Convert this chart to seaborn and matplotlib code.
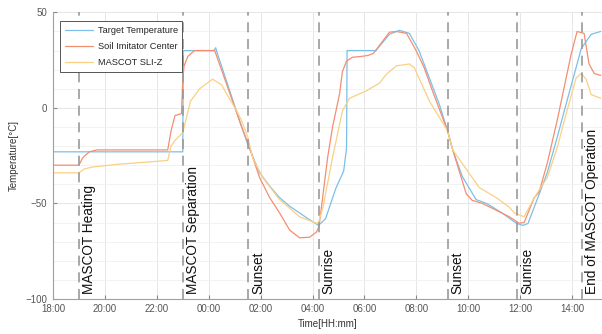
import matplotlib
matplotlib.use("Agg")
import matplotlib.pyplot as plt
import matplotlib.ticker as mticker
import seaborn as sns
import pandas as pd

# hours since 18:00
target_h = [0.0, 5.0, 5.02, 6.2, 6.27, 6.32, 7.27, 7.5, 7.96, 8.35, 8.73, 9.12, 9.5, 9.88, 10.23,
            10.5, 10.9, 11.2, 11.3, 11.31, 11.33, 12.45, 12.5, 12.96, 13.35, 13.73, 14.1, 14.5,
            14.88, 15.2, 15.4, 15.77, 16.3, 16.7, 17.3, 17.85, 18.1, 18.3, 18.65, 19.04, 19.42,
            19.8, 20.35, 20.73, 21.1]
target_t = [-23, -23, 30, 30, 31.5, 29, -10, -19, -34, -41, -47, -51.5, -55, -58.5, -61.5,
            -58, -42, -33, -22, -20, 30, 30, 31, 38.5, 40.6, 39, 30, 15.6,
            2, -12, -22, -36, -48, -50, -55, -60.4, -61.5, -60.5, -48, -34, -15.6,
            3.6, 31, 38.5, 40]

soil_h = [0.0, 1.0, 1.15, 1.4, 1.7, 4.42, 4.55, 4.7, 4.95, 5.0, 5.05, 5.2, 5.45, 6.23,
          7.27, 7.5, 7.96, 8.35, 8.73, 9.12, 9.5, 9.88, 10.15, 10.25, 10.58, 10.77, 11.04,
          11.15, 11.31, 11.54, 11.92, 12.15, 12.35, 12.65, 12.96, 13.23, 13.62, 14.0, 14.3,
          14.62, 15.2, 15.4, 15.92, 16.15, 16.54, 17.08, 17.58, 17.96, 18.15, 18.54, 18.73,
          19.04, 19.42, 19.96, 20.19, 20.46, 20.65, 20.85, 21.1]
soil_t = [-30, -30, -26, -23, -22, -22, -12, -4, -3, 15, 22, 27, 30, 30,
          -10, -18, -36.5, -47, -55, -64, -68, -67.7, -65, -62, -26, -10, 7.3,
          19, 24.5, 26.5, 27, 27.5, 28.6, 34, 39.6, 40, 39, 29.7, 21,
          8.9, -12, -22, -45, -48.4, -50, -53.6, -57, -60.4, -60, -47, -44,
          -29, -6.8, 28, 40, 39, 23, 18, 17]

sli_h = [0.0, 1.0, 1.2, 1.5, 2.5, 3.5, 4.42, 4.55, 4.7, 5.0, 5.3, 5.65, 6.04, 6.15, 6.5,
         6.69, 7.08, 7.27, 7.5, 7.69, 8.08, 8.73, 9.5, 10.15, 10.23, 10.4, 10.77, 11.15,
         11.42, 12.08, 12.58, 12.85, 13.23, 13.73, 13.92, 14.5, 15.2, 15.4, 16.42, 17.08,
         17.58, 17.77, 18.15, 18.54, 19.04, 19.42, 19.8, 20.15, 20.35, 20.54, 20.73, 21.1]
sli_t = [-34, -34, -32, -31, -29.5, -28.5, -27.5, -20, -17, -13, 3.6, 10, 14, 15, 12,
         7.3, -1.6, -6.8, -15, -26, -36.5, -48, -57, -60.4, -60, -52, -26, -1.6,
         5, 9, 13, 17.7, 22, 23, 21, 3.6, -12, -22, -41.7, -47,
         -52, -55, -57, -47, -36.5, -21, -1.6, 15.6, 18, 15, 7, 5]

series_names = ["Target Temperature", "Soil Imitator Center", "MASCOT SLI-Z"]
series_colors = ["#7cbfe8", "#f48e70", "#fad084"]

event_h = [1.0, 5.0, 7.5, 10.23, 15.2, 17.88, 20.38]
event_labels = ["MASCOT Heating", "MASCOT Separation", "Sunset", "Sunrise",
                "Sunset", "Sunrise", "End of MASCOT Operation"]

tick_h = [0, 2, 4, 6, 8, 10, 12, 14, 16, 18, 20]
tick_labels = ["18:00", "20:00", "22:00", "00:00", "02:00", "04:00", "06:00",
               "08:00", "10:00", "12:00", "14:00"]
ytick_vals = [-100, -50, 0, 50]

frames = []
for name, hh, tt in zip(series_names, [target_h, soil_h, sli_h], [target_t, soil_t, sli_t]):
    frames.append(pd.DataFrame({"hours": hh, "temp": tt, "series": name}))
df = pd.concat(frames, ignore_index=True)

sns.set_theme(style="white")
plt.rcParams["font.family"] = ["Liberation Sans", "DejaVu Sans"]

fig = plt.figure(figsize=(6.02, 3.34), dpi=100)
ax = fig.add_axes([0.088, 0.105, 0.912, 0.858])

sns.lineplot(data=df, x="hours", y="temp", hue="series", hue_order=series_names,
             palette=series_colors, estimator=None, sort=False, linewidth=0.9, ax=ax)

for xh, lab in zip(event_h, event_labels):
    ax.axvline(xh, color="#999999", linewidth=1.2, dashes=(6, 4), zorder=3)
    ax.text(xh + 0.13, -97.5, lab, rotation=90, ha="left", va="bottom",
            fontsize=9.8, color="#111111", zorder=4)

ax.set_xlim(0, 21.15)
ax.set_ylim(-100, 50)
ax.set_xticks(tick_h)
ax.set_xticklabels(tick_labels)
ax.set_yticks(ytick_vals)
ax.yaxis.set_minor_locator(mticker.MultipleLocator(10))
ax.grid(which="major", color="#e6e6e6", linewidth=0.7)
ax.grid(which="minor", axis="y", color="#f0f0f0", linewidth=0.6)
ax.tick_params(axis="both", which="major", direction="in", length=3, width=0.8,
               colors="#888888", labelsize=7, labelcolor="#555555", pad=4,
               bottom=True, left=True)
ax.tick_params(axis="y", which="minor", left=False)
for side in ["top", "right"]:
    ax.spines[side].set_visible(False)
for side in ["left", "bottom"]:
    ax.spines[side].set_color("#a0a0a0")
    ax.spines[side].set_linewidth(0.8)

ax.set_xlabel("Time[HH:mm]", fontsize=7, color="#333333", labelpad=3)
ax.set_ylabel("Temperature[°C]", fontsize=7, color="#333333", labelpad=5)

handles, labels = ax.get_legend_handles_labels()
leg = ax.legend(handles, labels, loc="upper left", fontsize=6.7, frameon=True,
                fancybox=False, framealpha=1, edgecolor="#555555",
                handlelength=3.0, handletextpad=0.5, borderpad=0.5, labelspacing=0.75,
                bbox_to_anchor=(0.005, 0.985))
leg.get_frame().set_linewidth(0.7)
leg.set_zorder(5)

fig.savefig("out.png", dpi=100)
